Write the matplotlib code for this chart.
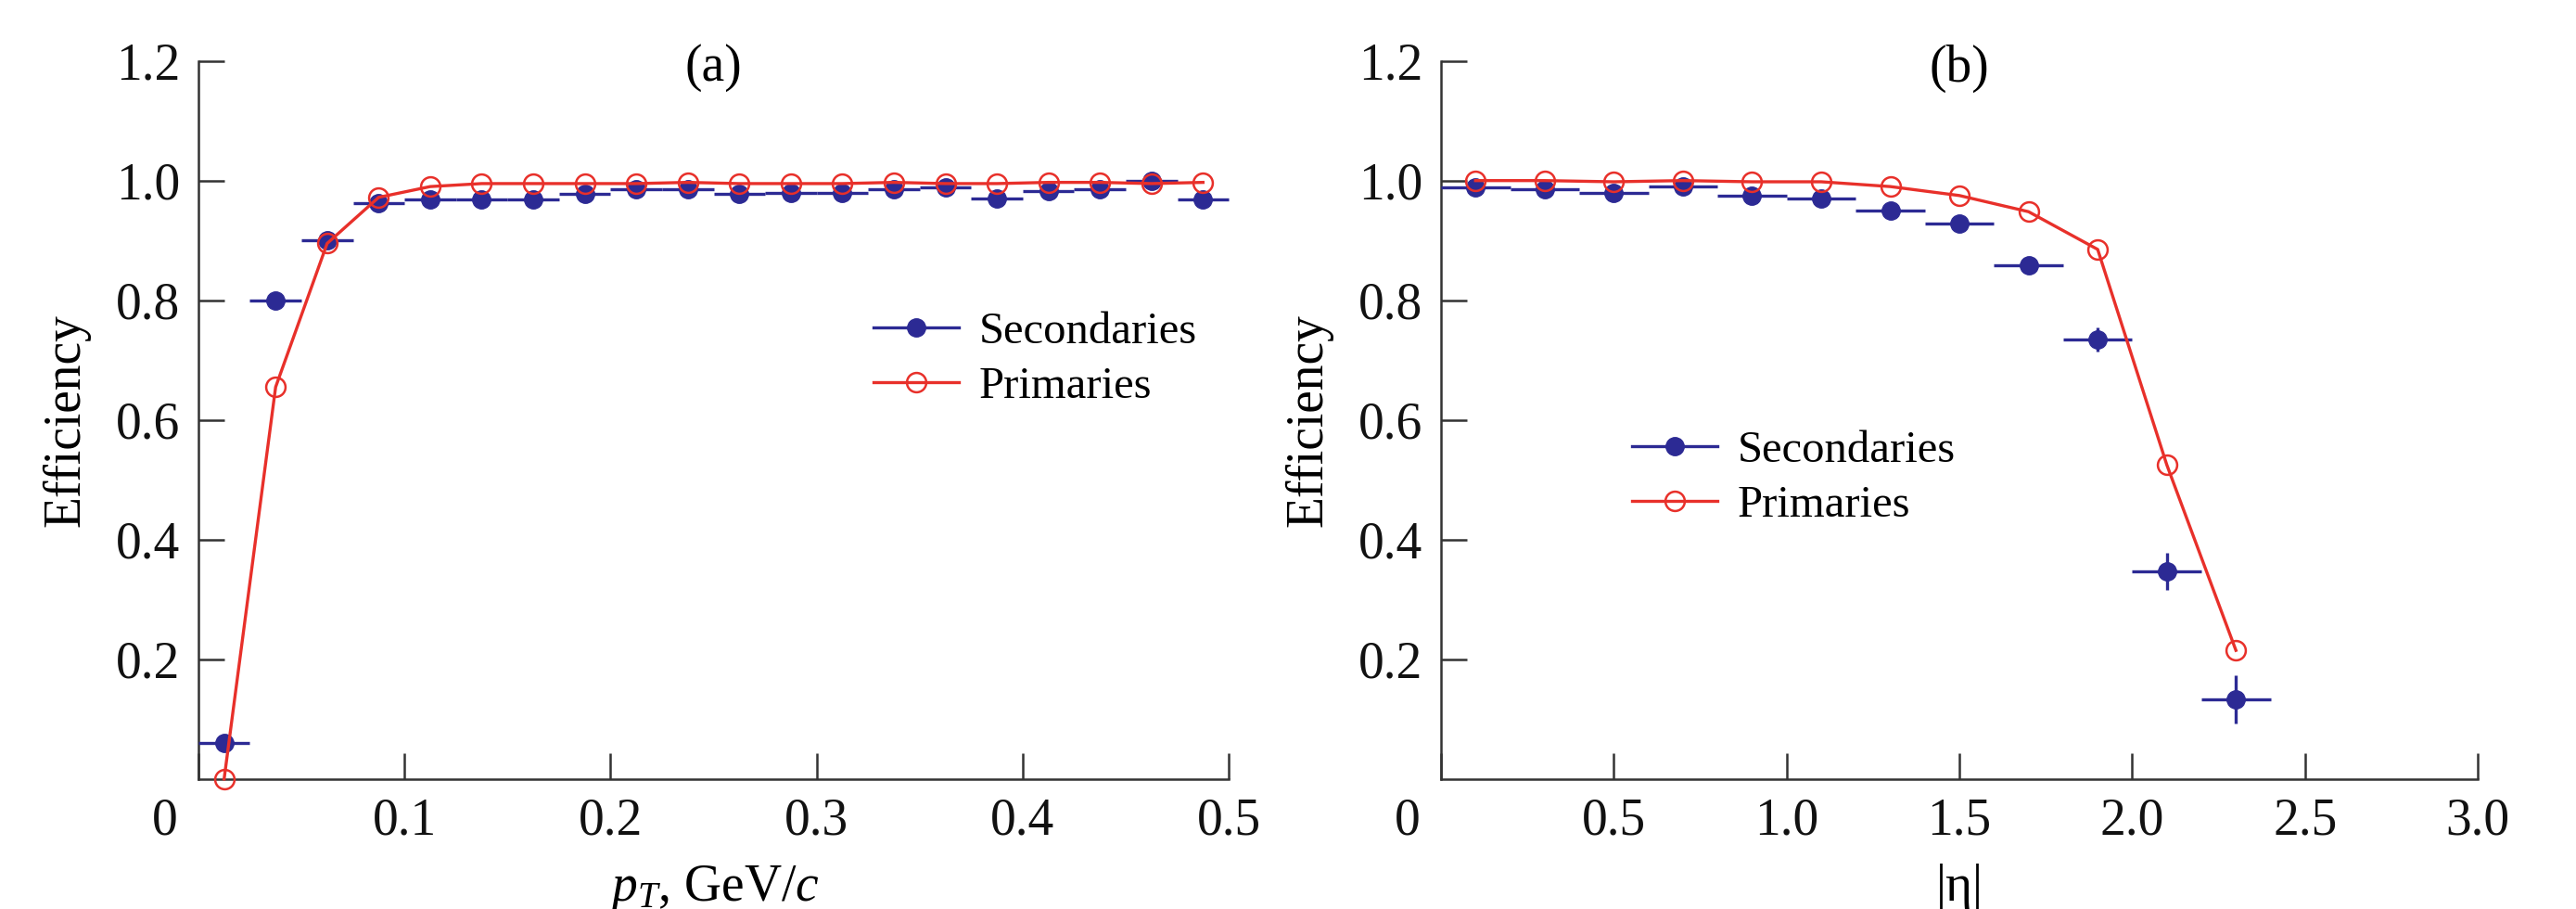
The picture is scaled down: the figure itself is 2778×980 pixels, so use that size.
import matplotlib
matplotlib.use("Agg")
import matplotlib.pyplot as plt
import matplotlib.transforms as mtransforms
from matplotlib.lines import Line2D

plt.rcParams['font.family'] = 'serif'
plt.rcParams['font.serif'] = ['Liberation Serif', 'DejaVu Serif']
plt.rcParams['mathtext.fontset'] = 'custom'
plt.rcParams['mathtext.rm'] = 'Liberation Serif'
plt.rcParams['mathtext.it'] = 'Liberation Serif:italic'

# panel (a): efficiency vs pT (bins of 0.025 GeV/c)
pt_centers = [0.0125, 0.0375, 0.0625, 0.0875, 0.1125, 0.1375, 0.1625, 0.1875,
              0.2125, 0.2375, 0.2625, 0.2875, 0.3125, 0.3375, 0.3625, 0.3875,
              0.4125, 0.4375, 0.4625, 0.4875]
pt_halfwidth = 0.0125
pt_secondaries = [0.06, 0.80, 0.90, 0.962, 0.968, 0.968, 0.968, 0.978,
                  0.985, 0.985, 0.978, 0.98, 0.98, 0.985, 0.988, 0.97,
                  0.983, 0.985, 1.0, 0.968]
pt_primaries = [0.0, 0.655, 0.895, 0.972, 0.99, 0.995, 0.995, 0.995,
                0.995, 0.997, 0.995, 0.995, 0.995, 0.997, 0.995, 0.995,
                0.997, 0.997, 0.995, 0.997]

# panel (b): efficiency vs |eta| (bins of 0.2)
eta_centers = [0.1, 0.3, 0.5, 0.7, 0.9, 1.1, 1.3, 1.5, 1.7, 1.9, 2.1, 2.3]
eta_halfwidth = 0.1
eta_secondaries = [0.988, 0.985, 0.98, 0.99, 0.975, 0.97, 0.95, 0.928,
                   0.858, 0.735, 0.347, 0.133]
eta_secondaries_err = [0, 0, 0, 0, 0, 0, 0, 0, 0.005, 0.02, 0.031, 0.04]
eta_primaries = [1.0, 1.0, 0.998, 1.0, 0.998, 0.998, 0.99, 0.975,
                 0.948, 0.885, 0.525, 0.215]

pt_ticks = [0, 0.1, 0.2, 0.3, 0.4, 0.5]
pt_ticklabels = ['0', '0.1', '0.2', '0.3', '0.4', '0.5']
eta_ticks = [0, 0.5, 1.0, 1.5, 2.0, 2.5, 3.0]
eta_ticklabels = ['0', '0.5', '1.0', '1.5', '2.0', '2.5', '3.0']
eff_ticks = [0.2, 0.4, 0.6, 0.8, 1.0, 1.2]
eff_ticklabels = ['0.2', '0.4', '0.6', '0.8', '1.0', '1.2']

blue = '#2c2a94'
red = '#e8302a'
axis_col = '#333333'

fig = plt.figure(figsize=(27.78, 9.8), dpi=100)
ax_a = fig.add_axes([0.077, 0.143, 0.400, 0.790])
ax_b = fig.add_axes([0.5594, 0.143, 0.4025, 0.790])


def style_axis(ax, xticks, xlabels, xlim, xlabel, title):
    ax.set_xlim(*xlim)
    ax.set_ylim(0, 1.2)
    for side in ('top', 'right'):
        ax.spines[side].set_visible(False)
    for side in ('left', 'bottom'):
        ax.spines[side].set_linewidth(1.8)
        ax.spines[side].set_color(axis_col)
    ax.set_xticks(xticks)
    ax.set_xticklabels(xlabels)
    ax.set_yticks(eff_ticks)
    ax.set_yticklabels(eff_ticklabels)
    ax.tick_params(direction='in', length=20, width=1.8, color=axis_col,
                   labelsize=40, pad=14, labelcolor='#111111')
    # the origin label sits left of the corner
    shift = mtransforms.ScaledTranslation(-0.36, 0, fig.dpi_scale_trans)
    lab0 = ax.get_xticklabels()[0]
    lab0.set_transform(lab0.get_transform() + shift)
    ax.set_ylabel('Efficiency', fontsize=40, labelpad=20)
    ax.set_xlabel(xlabel, fontsize=40, labelpad=14)
    ax.text(0.5, 0.99, title, transform=ax.transAxes, ha='center',
            va='center', fontsize=40)


style_axis(ax_a, pt_ticks, pt_ticklabels, (0, 0.5), '$p_T$, GeV/$c$', '(a)')
style_axis(ax_b, eta_ticks, eta_ticklabels, (0, 3.0), '|η|', '(b)')

# panel (a)
ax_a.errorbar(pt_centers, pt_secondaries, xerr=pt_halfwidth, fmt='o',
              color=blue, ms=14, elinewidth=2.4, capsize=0, clip_on=False,
              zorder=3)
ax_a.plot(pt_centers, pt_primaries, '-o', color=red, mfc='none', mec=red,
          mew=1.8, ms=15, lw=2.4, clip_on=False, zorder=4)

# panel (b)
ax_b.errorbar(eta_centers, eta_secondaries, xerr=eta_halfwidth,
              yerr=eta_secondaries_err, fmt='o', color=blue, ms=14,
              elinewidth=2.4, capsize=0, clip_on=False, zorder=3)
ax_b.plot(eta_centers, eta_primaries, '-o', color=red, mfc='none', mec=red,
          mew=1.8, ms=15, lw=2.4, clip_on=False, zorder=4)

handles = [
    Line2D([], [], color=blue, marker='o', ms=14, lw=2.4),
    Line2D([], [], color=red, marker='o', mfc='none', mec=red, mew=1.8,
           ms=15, lw=2.4),
]
names = ['Secondaries', 'Primaries']

ax_a.legend(handles, names, loc='center left', bbox_to_anchor=(0.655, 0.584),
            frameon=False, fontsize=35, borderpad=0, borderaxespad=0,
            handlelength=1.9, handletextpad=0.45, labelspacing=0.3)
ax_b.legend(handles, names, loc='center left', bbox_to_anchor=(0.184, 0.419),
            frameon=False, fontsize=35, borderpad=0, borderaxespad=0,
            handlelength=1.9, handletextpad=0.45, labelspacing=0.3)

plt.savefig('out.png', dpi=100)
